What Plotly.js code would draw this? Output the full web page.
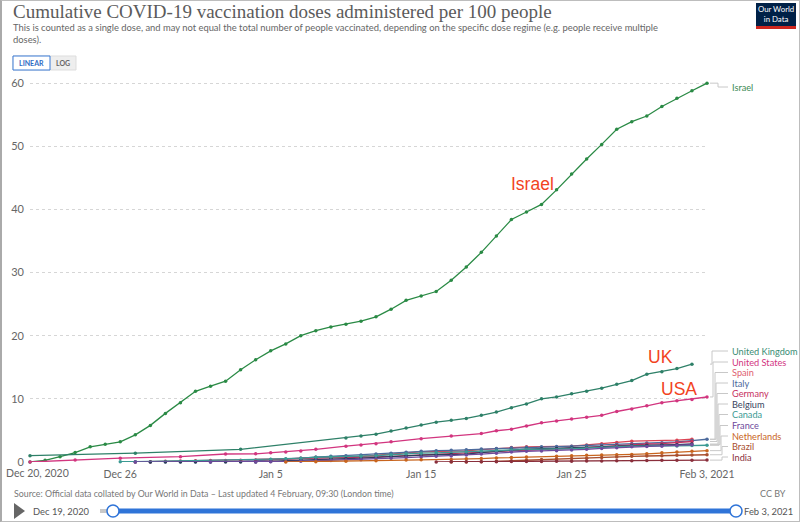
<!DOCTYPE html>
<html><head><meta charset="utf-8">
<script src="https://cdn.plot.ly/plotly-3.0.1.min.js"></script>
<style>html,body{margin:0;padding:0;background:#fff}#wrap{position:relative;width:800px;height:522px}#chart{width:800px;height:522px}#frame{position:absolute;left:0;top:0;width:800px;height:522px;box-sizing:border-box;border:1px solid #bdbdbd;border-left:2px solid #aaa;pointer-events:none}</style>
</head><body><div id="wrap"><div id="chart"></div><div id="frame"></div></div>
<script>
const N = null;
const dates = ['2020-12-20','2020-12-21','2020-12-22','2020-12-23','2020-12-24','2020-12-25','2020-12-26','2020-12-27','2020-12-28','2020-12-29','2020-12-30','2020-12-31',
 '2021-01-01','2021-01-02','2021-01-03','2021-01-04','2021-01-05','2021-01-06','2021-01-07','2021-01-08','2021-01-09','2021-01-10','2021-01-11','2021-01-12','2021-01-13','2021-01-14','2021-01-15','2021-01-16','2021-01-17','2021-01-18','2021-01-19','2021-01-20','2021-01-21','2021-01-22','2021-01-23','2021-01-24','2021-01-25','2021-01-26','2021-01-27','2021-01-28','2021-01-29','2021-01-30','2021-01-31',
 '2021-02-01','2021-02-02','2021-02-03'];

const israel = [0.0,0.27,0.84,1.5,2.4,2.8,3.2,4.3,5.8,7.7,9.4,11.2,
 12.0,12.8,14.6,16.2,17.6,18.7,20.0,20.8,21.4,21.8,22.3,23.0,24.2,25.6,26.3,27.0,28.8,30.9,33.2,35.8,38.4,39.6,40.8,43.1,45.6,48.0,50.3,52.7,53.9,54.8,56.3,
 57.6,58.8,60.0];
const unitedKingdom = [1.0,N,N,N,N,N,N,1.4,N,N,N,N,
 N,N,2.0,N,N,N,N,N,N,3.8,4.1,4.4,4.9,5.4,5.85,6.3,6.6,6.9,7.4,7.9,8.6,9.2,10.0,10.3,10.8,11.2,11.7,12.3,12.9,13.9,14.3,
 14.8,15.5,N];
const unitedStates = [0.0,N,N,0.3,N,N,0.6,N,N,N,0.85,N,
 N,1.27,N,1.3,1.47,1.6,1.75,2.0,N,2.5,2.7,2.9,3.2,N,3.7,N,4.1,N,4.5,4.95,5.2,5.7,6.2,6.5,6.8,7.1,7.4,8.0,8.4,8.9,9.4,
 9.7,9.9,10.3];
const spain = [N,N,N,N,N,N,N,N,N,N,N,N,
 N,N,N,0.18,0.3,0.41,0.59,0.74,N,N,0.87,1.1,1.3,1.45,1.6,N,N,1.75,1.95,2.1,2.3,2.4,N,N,2.5,2.7,2.9,3.1,3.3,N,N,
 3.45,3.6,N];
const italy = [N,N,N,N,N,N,N,0.0,0.01,0.02,0.03,0.05,
 0.07,0.1,0.15,0.22,0.32,0.45,0.6,0.76,0.9,1.0,1.1,1.25,1.4,1.55,1.7,1.8,1.85,1.95,2.05,2.15,2.25,2.35,2.4,2.45,2.5,2.6,2.7,2.8,2.9,3.0,3.05,
 3.2,3.4,3.6];
const germany = [N,N,N,N,N,N,N,0.0,0.05,0.1,0.16,0.2,
 0.22,0.25,0.28,0.32,0.4,0.45,0.5,0.55,0.6,0.64,0.7,0.8,0.9,1.0,1.1,1.2,1.3,1.4,1.5,1.6,1.75,1.9,2.0,2.05,2.15,2.3,2.45,2.6,2.75,2.85,2.9,
 3.05,3.25,N];
const belgium = [N,N,N,N,N,N,N,N,0.0,0.0,0.0,0.0,
 0.0,0.0,0.0,0.01,0.08,0.2,0.3,0.45,0.5,0.55,0.6,0.75,0.9,1.0,1.1,1.15,1.2,1.25,1.5,1.7,1.9,2.05,2.1,2.15,2.2,2.3,2.4,2.5,2.6,2.65,2.7,
 2.75,2.85,N];
const canada = [N,N,N,N,N,N,0.05,0.05,N,N,N,N,
 N,N,N,N,0.45,0.5,0.6,0.75,0.8,N,0.9,1.0,1.15,1.3,1.4,1.45,N,1.6,1.7,1.8,1.9,2.0,N,N,2.1,2.2,2.3,2.4,2.5,N,N,
 2.55,2.6,2.65];
const france = [N,N,N,N,N,N,N,0.0,N,N,N,N,
 0.0,N,N,0.01,0.03,0.07,0.12,0.2,0.25,0.3,0.36,0.5,0.6,0.7,0.8,0.9,0.95,1.1,1.25,1.4,1.6,1.7,1.75,1.8,1.9,2.0,2.15,2.25,2.4,2.45,2.5,
 2.6,2.75,N];
const netherlands = [N,N,N,N,N,N,N,N,N,N,N,N,
 N,N,N,N,N,0.0,N,0.05,N,0.1,N,0.2,N,0.3,0.35,N,0.4,0.5,0.55,0.65,0.7,0.8,N,0.9,1.0,1.05,1.1,1.15,1.2,1.3,1.45,
 1.6,1.7,1.8];
const brazil = [N,N,N,N,N,N,N,N,N,N,N,N,
 N,N,N,N,N,N,N,N,N,N,N,N,N,N,N,N,0.0,0.01,0.05,0.1,0.2,0.3,0.4,0.5,0.55,0.6,0.7,0.8,0.9,0.95,1.0,
 1.05,1.1,1.15];
const india = [N,N,N,N,N,N,N,N,N,N,N,N,
 N,N,N,N,N,N,N,N,N,N,N,N,N,N,N,0.0,0.02,0.03,0.04,0.05,0.07,0.08,0.09,0.1,0.13,0.15,0.16,0.18,0.2,0.22,0.26,
 0.27,0.28,0.3];

const countries = ['Israel','United Kingdom','United States','Spain','Italy','Germany','Belgium','Canada','France','Netherlands','Brazil','India'];
const seriesValues = [israel,unitedKingdom,unitedStates,spain,italy,germany,belgium,canada,france,netherlands,brazil,india];
const colors = ['#2a8a45','#2e8068','#d2357f','#dc4454','#4c6a9c','#c7315f','#2e3d5c','#3c9a93','#6e4a9c','#c8651e','#a9502f','#8a2f3c'];
const labelColors = ['#3d8b55','#3b8d74','#d2357f','#e06070','#4c6a9c','#c7315f','#3a4660','#3c9a93','#6e4a9c','#c8651e','#a9502f','#8a2f3c'];
// label pixel rows (collision-avoided positions, as in the original)
const labelRowsPx = [87,351,362,372.5,383,393.5,404,414.5,425.5,436,446.5,457];
const bendPx = [718,712,713,715,716,717,718,719,720,721,722,722];

const yTicks = [0,10,20,30,40,50,60];
const xTickVals = ['2020-12-26','2021-01-05','2021-01-15','2021-01-25','2021-02-03'];
const xTickText = ['Dec 26','Jan 5','Jan 15','Jan 25','Feb 3, 2021'];

const W = 800, H = 522, L = 30, R = 93, T = 80, B = 60;
const pw = W - L - R, ph = H - T - B;
const YMAX = 60.5;
const px = x => (x - L) / pw;
const py = y => (H - B - y) / ph;

const traces = countries.map((c, i) => ({
  type: 'scatter', mode: 'lines+markers', name: c,
  x: dates, y: seriesValues[i], connectgaps: true, cliponaxis: false,
  line: {color: colors[i], width: 1.3},
  marker: {color: colors[i], size: 3.5},
  hoverinfo: 'skip', showlegend: false
}));

const shapes = [];
const annotations = [];
const sans = 'Lato, "Open Sans", sans-serif';
function txt(x, y, text, size, color, xa, opts) {
  annotations.push(Object.assign({xref:'paper', yref:'paper', x: px(x), y: py(y), xanchor: xa || 'left', yanchor:'middle',
    showarrow:false, text: text, font:{family: sans, size: size, color: color}, borderpad: 0}, opts || {}));
}

// connectors and end labels
countries.forEach((c, i) => {
  const vals = seriesValues[i].filter(v => v !== null);
  const last = vals[vals.length - 1];
  const yEnd = last / YMAX;
  const yLab = py(labelRowsPx[i]);
  const ln = {color: '#c8c8c8', width: 1};
  shapes.push({type:'line', xref:'paper', yref:'paper', x0: px(710), x1: px(bendPx[i]), y0: yEnd, y1: yEnd, line: ln});
  shapes.push({type:'line', xref:'paper', yref:'paper', x0: px(bendPx[i]), x1: px(bendPx[i]), y0: yEnd, y1: yLab, line: ln});
  shapes.push({type:'line', xref:'paper', yref:'paper', x0: px(bendPx[i]), x1: px(728), y0: yLab, y1: yLab, line: ln});
  txt(731, labelRowsPx[i], c, 9.2, labelColors[i], 'left');
});

// in-chart callouts
const callFont = '"Liberation Sans", Arial, sans-serif';
txt(532, 184, 'Israel', 17.5, '#f2431e', 'center', {font:{family: callFont, size: 17.5, color:'#f2431e'}});
txt(660, 357, 'UK', 17.5, '#f2431e', 'center', {font:{family: callFont, size: 17.5, color:'#f2431e'}});
txt(678.5, 389, 'USA', 17.5, '#f2431e', 'center', {font:{family: callFont, size: 17.5, color:'#f2431e'}});

// first x label, shifted like the original
txt(5, 473, 'Dec 20, 2020', 10.5, '#666', 'left');

// header
txt(12, 12, 'Cumulative COVID-19 vaccination doses administered per 100 people', 19, '#5b5b5b', 'left',
  {font:{family:'"Liberation Serif", "DejaVu Serif", serif', size:19, color:'#5b5b5b'}});
txt(12, 27, 'This is counted as a single dose, and may not equal the total number of people vaccinated, depending on the specific dose regime (e.g. people receive multiple', 9.4, '#666', 'left');
txt(12, 40, 'doses).', 9.4, '#666', 'left');

// LINEAR / LOG toggle
shapes.push({type:'rect', xref:'paper', yref:'paper', x0: px(13), x1: px(76), y0: py(56), y1: py(70), fillcolor:'#eeeeee', line:{color:'#dddddd', width:1}});
shapes.push({type:'rect', xref:'paper', yref:'paper', x0: px(13), x1: px(50), y0: py(56), y1: py(70), fillcolor:'#ffffff', line:{color:'#3a7bd5', width:1}});
txt(31.5, 63, '<b>LINEAR</b>', 7, '#2f6bc4', 'center');
txt(63, 63, '<b>LOG</b>', 7, '#666', 'center');

// logo
shapes.push({type:'rect', xref:'paper', yref:'paper', x0: px(756), x1: px(796), y0: py(3), y1: py(26), fillcolor:'#002147', line:{width:0}});
shapes.push({type:'rect', xref:'paper', yref:'paper', x0: px(756), x1: px(796), y0: py(26), y1: py(29), fillcolor:'#ce261e', line:{width:0}});
txt(776, 14.5, 'Our World<br>in Data', 7.8, '#ffffff', 'center');

// footer
txt(13, 493, 'Source: Official data collated by Our World in Data – Last updated 4 February, 09:30 (London time)', 8.8, '#777', 'left');
txt(787, 493, 'CC BY', 9, '#777', 'right');

// timeline
shapes.push({type:'path', xref:'paper', yref:'paper', path:`M ${px(14)} ${py(503)} L ${px(25)} ${py(511)} L ${px(14)} ${py(519)} Z`, fillcolor:'#666', line:{width:0}});
txt(32, 511, 'Dec 19, 2020', 9.4, '#555', 'left');
txt(743, 511, 'Feb 3, 2021', 9.4, '#555', 'left');
shapes.push({type:'rect', xref:'paper', yref:'paper', x0: px(100), x1: px(113), y0: py(509), y1: py(513), fillcolor:'#c8c8c8', line:{width:0}});
shapes.push({type:'rect', xref:'paper', yref:'paper', x0: px(113), x1: px(736), y0: py(508.5), y1: py(513.5), fillcolor:'#2f74d8', line:{width:0}});
shapes.push({type:'circle', xref:'paper', yref:'paper', x0: px(107), x1: px(119), y0: py(505), y1: py(517), fillcolor:'#fff', line:{color:'#2f74d8', width:1.5}});
shapes.push({type:'circle', xref:'paper', yref:'paper', x0: px(730), x1: px(742), y0: py(505), y1: py(517), fillcolor:'#fff', line:{color:'#2f74d8', width:1.5}});

const layout = {
  width: W, height: H,
  margin: {l: L, r: R, t: T, b: B, pad: 0},
  paper_bgcolor: '#fff', plot_bgcolor: '#fff',
  showlegend: false,
  xaxis: {type:'date', range:['2020-12-20','2021-02-03'], tickvals: xTickVals, ticktext: xTickText,
    showgrid:false, zeroline:false, showline:false, ticks:'', ticklabelstandoff: 4, tickfont:{family: sans, size: 10.5, color:'#666'}, fixedrange:true},
  yaxis: {range:[0, YMAX], tickvals: yTicks, showgrid:true, gridcolor:'#d6d6d6', griddash:'dot', gridwidth:1,
    zeroline:false, showline:false, ticks:'', ticklabelstandoff: 5, tickfont:{family: sans, size: 11, color:'#666'}, fixedrange:true},
  shapes: shapes, annotations: annotations
};

Plotly.newPlot('chart', traces, layout, {displayModeBar:false, staticPlot:true});
</script></body></html>
